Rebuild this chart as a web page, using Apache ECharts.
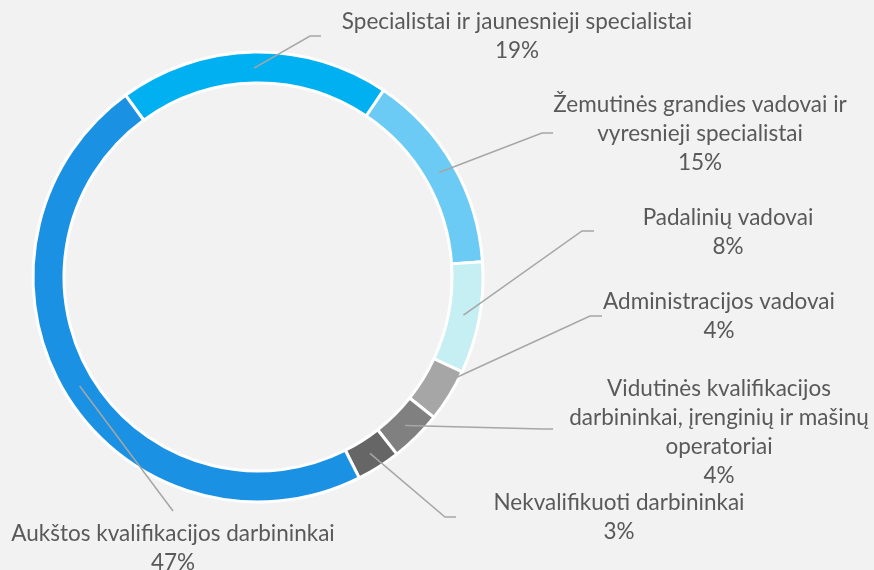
<!DOCTYPE html>
<html>
<head>
<meta charset="utf-8">
<script src="https://cdn.jsdelivr.net/npm/echarts@6/dist/echarts.min.js"></script>
<style>
  html, body { margin: 0; padding: 0; background: #f2f2f2; }
  #main { width: 874px; height: 570px; }
</style>
</head>
<body>
<div id="main"></div>
<script>
  // kategorijos (pagal laikrodžio rodyklę nuo viršaus)
  var categories = [
    'Specialistai ir jaunesnieji specialistai',
    'Žemutinės grandies vadovai ir\nvyresnieji specialistai',
    'Padalinių vadovai',
    'Administracijos vadovai',
    'Vidutinės kvalifikacijos\ndarbininkai, įrenginių ir mašinų\noperatoriai',
    'Nekvalifikuoti darbininkai',
    'Aukštos kvalifikacijos darbininkai'
  ];
  // dalys, %
  var shares = [19.45, 14.5, 8.0, 3.8, 3.7, 3.15, 47.4];
  var colors = ['#00b0f0', '#6ccbf4', '#c5eff2', '#a6a6a6', '#808080', '#666666', '#1a91e2'];

  // etikečių vietos: centras, lūžio taškas, linijos galas
  var labelPos = [
    { x: 517, y: 36, elbow: [310, 36], end: [321, 36] },
    { x: 700, y: 134, elbow: [542, 133], end: [553, 133] },
    { x: 728, y: 232, elbow: [582, 231], end: [594, 231] },
    { x: 719, y: 316, elbow: [590, 316], end: [602, 316] },
    { x: 719, y: 432, elbow: [543, 429], end: [553, 429] },
    { x: 619, y: 517, elbow: [445, 517], end: [456, 517] },
    { x: 173, y: 548, elbow: [173, 511], end: [173, 511] }
  ];

  var myChart = echarts.init(document.getElementById('main'));

  var ringData = [];
  var labelData = [];
  for (var i = 0; i < categories.length; i++) {
    ringData.push({ name: categories[i], value: shares[i], itemStyle: { color: colors[i] } });
    labelData.push({ name: categories[i], value: shares[i] });
  }

  var pieCenter = [258, 277];
  var pieStart = 126.1;

  var option = {
    backgroundColor: '#f2f2f2',
    animation: false,
    series: [{
      // žiedas
      type: 'pie',
      center: pieCenter,
      radius: [194, 225],
      startAngle: pieStart,
      clockwise: true,
      emphasis: { disabled: true },
      itemStyle: {
        borderColor: '#ffffff',
        borderWidth: 3
      },
      label: { show: false },
      labelLine: { show: false },
      data: ringData
    }, {
      // etiketės su linijomis virš žiedo
      type: 'pie',
      z: 5,
      silent: true,
      center: pieCenter,
      radius: [194, 225],
      startAngle: pieStart,
      clockwise: true,
      avoidLabelOverlap: false,
      percentPrecision: 0,
      emphasis: { disabled: true },
      itemStyle: { color: 'rgba(0,0,0,0)', borderWidth: 0 },
      label: {
        show: true,
        position: 'outside',
        formatter: '{b}\n{d}%',
        color: '#595959',
        fontFamily: 'Lato',
        fontSize: 22.5,
        lineHeight: 29,
        align: 'center'
      },
      labelLine: {
        show: true,
        length: 10,
        length2: 10,
        smooth: false,
        lineStyle: { color: '#a6a6a6', width: 1.5 }
      },
      labelLayout: function (params) {
        var p = labelPos[params.dataIndex];
        var pts = params.labelLinePoints;
        var start = p.elbow;
        if (pts && pts.length > 1) {
          // pradžia žiedo viduryje
          var dx = pts[1][0] - pts[0][0];
          var dy = pts[1][1] - pts[0][1];
          var len = Math.sqrt(dx * dx + dy * dy) || 1;
          start = [pts[0][0] - dx / len * 16, pts[0][1] - dy / len * 16];
        }
        return {
          x: p.x,
          y: p.y,
          align: 'center',
          verticalAlign: 'middle',
          labelLinePoints: [start, p.elbow, p.end]
        };
      },
      data: labelData
    }]
  };
  myChart.setOption(option, true);
</script>
</body>
</html>
